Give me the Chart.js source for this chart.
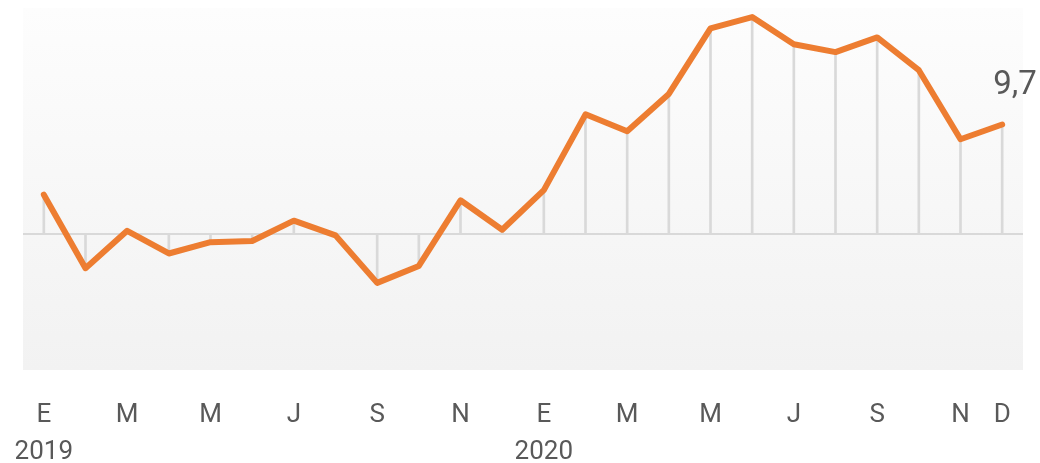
<!DOCTYPE html>
<html>
<head>
<meta charset="utf-8">
<script src="https://cdn.jsdelivr.net/npm/chart.js@4/dist/chart.umd.min.js"></script>
<style>
html, body { margin: 0; padding: 0; background: #fff; }
#wrap { width: 1040px; height: 463px; position: relative; }
</style>
</head>
<body>
<div id="wrap"><canvas id="chart"></canvas></div>
<script>
const months = ['E','F','M','A','M','J','J','A','S','O','N','D',
                'E','F','M','A','M','J','J','A','S','O','N','D'];
const years = ['2019','','','','','','','','','','','',
               '2020','','','','','','','','','','',''];
const values = [3.5, -3.0, 0.3, -1.7, -0.7, -0.6, 1.2, -0.1, -4.3, -2.8, 3.0, 0.4,
                3.9, 10.6, 9.1, 12.4, 18.2, 19.2, 16.8, 16.1, 17.4, 14.5, 8.4, 9.7];

// gradient fill behind the plot area
const areaBg = {
  id: 'areaBg',
  beforeDraw(chart){
    const {ctx, chartArea: a} = chart;
    const g = ctx.createLinearGradient(0, a.top, 0, a.bottom);
    g.addColorStop(0, '#fdfdfd');
    g.addColorStop(1, '#f2f2f2');
    ctx.save();
    ctx.fillStyle = g;
    ctx.fillRect(a.left, a.top, a.width, a.height);
    ctx.restore();
  }
};

// value label on the last point
const lastLabel = {
  id: 'lastLabel',
  afterDatasetsDraw(chart){
    const meta = chart.getDatasetMeta(0);
    const pt = meta.data[meta.data.length - 1];
    const v = values[values.length - 1];
    const ctx = chart.ctx;
    ctx.save();
    ctx.font = '33px Roboto';
    ctx.fillStyle = '#595959';
    ctx.textAlign = 'left';
    ctx.textBaseline = 'alphabetic';
    ctx.fillText(v.toFixed(1).replace('.', ','), pt.x - 9, pt.y - 31);
    ctx.restore();
  }
};

new Chart(document.getElementById('chart'), {
  data: {
    labels: months.map((m, i) => m + ' ' + years[i]),
    datasets: [{
      type: 'line',
      data: values,
      borderColor: '#ED7D31',
      borderWidth: 6,
      borderJoinStyle: 'round',
      borderCapStyle: 'round',
      pointRadius: 0,
      tension: 0,
      order: 0
    }, {
      type: 'bar',
      data: values,
      backgroundColor: '#d9d9d9',
      barThickness: 2,
      order: 1
    }]
  },
  options: {
    responsive: true,
    maintainAspectRatio: false,
    animation: false,
    layout: { padding: { left: 23, right: 17, top: 8, bottom: 0 } },
    plugins: { legend: { display: false }, tooltip: { enabled: false } },
    scales: {
      x: {
        offset: true,
        grid: { display: false, drawTicks: false },
        border: { display: false },
        afterFit(s){ s.height = 93; s.paddingLeft = 0; s.paddingRight = 0; },
        ticks: {
          autoSkip: false,
          maxRotation: 0,
          padding: 27,
          color: '#595959',
          font: { family: 'Roboto', size: 26, lineHeight: 1.42 },
          callback: function(val, i){
            return (i % 2 === 0 || i === values.length - 1) ? [months[i], years[i]] : '';
          }
        }
      },
      y: {
        min: -12,
        max: 20,
        ticks: { display: false, stepSize: 4 },
        border: { display: false },
        afterFit(s){ s.width = 0; },
        grid: {
          drawTicks: false,
          lineWidth: 2,
          color: ctx => ctx.tick && ctx.tick.value === 0 ? '#d9d9d9' : 'rgba(0,0,0,0)'
        }
      }
    }
  },
  plugins: [areaBg, lastLabel]
});
</script>
</body>
</html>
